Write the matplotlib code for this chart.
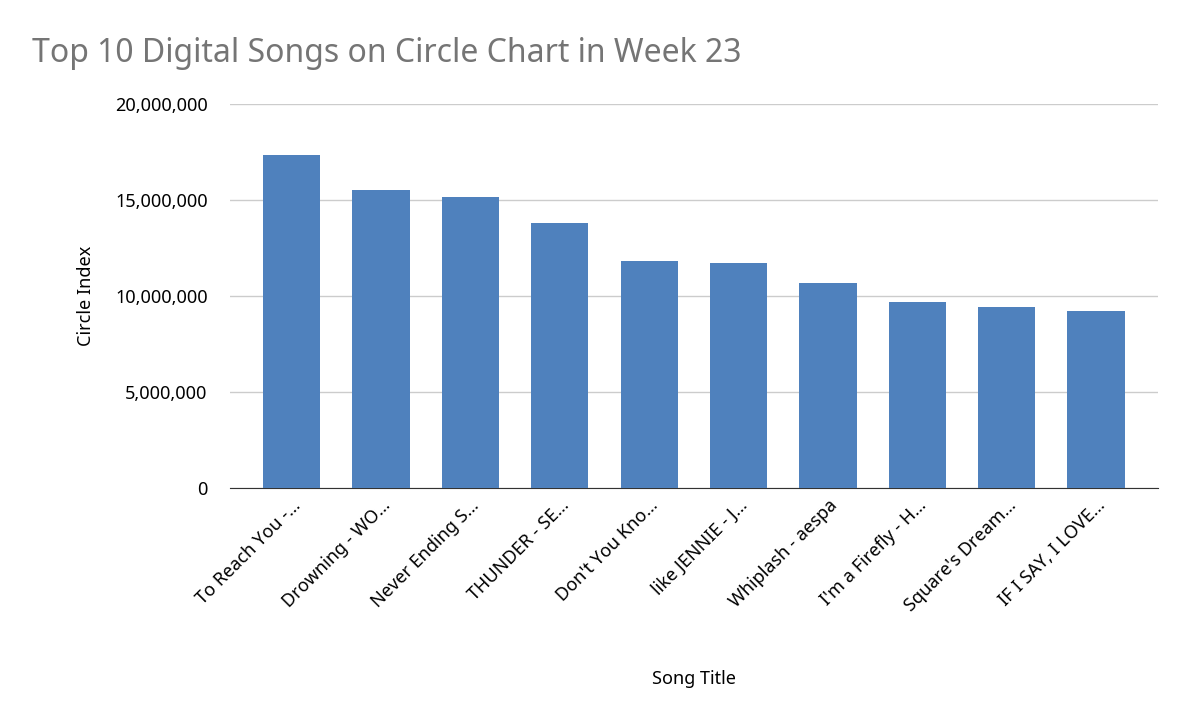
import matplotlib
matplotlib.use("Agg")
import matplotlib.pyplot as plt
from matplotlib.ticker import FuncFormatter

songs = ["To Reach You -…", "Drowning - WO…", "Never Ending S…", "THUNDER - SE…",
         "Don't You Kno…", "like JENNIE - J…", "Whiplash - aespa", "I'm a Firefly - H…",
         "Square's Dream…", "IF I SAY, I LOVE…"]
values = [17340000, 15520000, 15160000, 13800000, 11820000, 11720000,
          10680000, 9690000, 9430000, 9220000]
yticks = [0, 5000000, 10000000, 15000000, 20000000]

plt.rcParams["font.family"] = ["Noto Sans", "DejaVu Sans"]
fig = plt.figure(figsize=(11.85, 7.26), dpi=100)
ax = fig.add_axes([0.194, 0.328, 0.783, 0.529])
x = range(len(songs))
ax.bar(x, values, width=0.64, color="#4f81bd", zorder=3)
ax.set_xlim(-0.69, len(songs) - 0.31)
ax.set_ylim(0, 20000000)
ax.set_yticks(yticks)
ax.yaxis.set_major_formatter(FuncFormatter(lambda v, p: f"{int(v):,}"))
ax.grid(axis="y", color="#cccccc", linewidth=1, zorder=0)
for s in ["top", "right", "left"]:
    ax.spines[s].set_visible(False)
ax.spines["bottom"].set_color("#333333")
ax.tick_params(axis="y", length=0, labelsize=13, pad=16)
ax.tick_params(axis="x", length=0, labelsize=13, pad=6)
ax.set_xticks(list(x))
ax.set_xticklabels(songs, rotation=45, ha="right", rotation_mode="anchor")
ax.set_xlabel("Song Title", fontsize=13, labelpad=40)
ax.set_ylabel("Circle Index", fontsize=13, labelpad=14)
fig.text(0.027, 0.915, "Top 10 Digital Songs on Circle Chart in Week 23",
         fontsize=23, color="#757575")
fig.savefig("out.png", dpi=100)
